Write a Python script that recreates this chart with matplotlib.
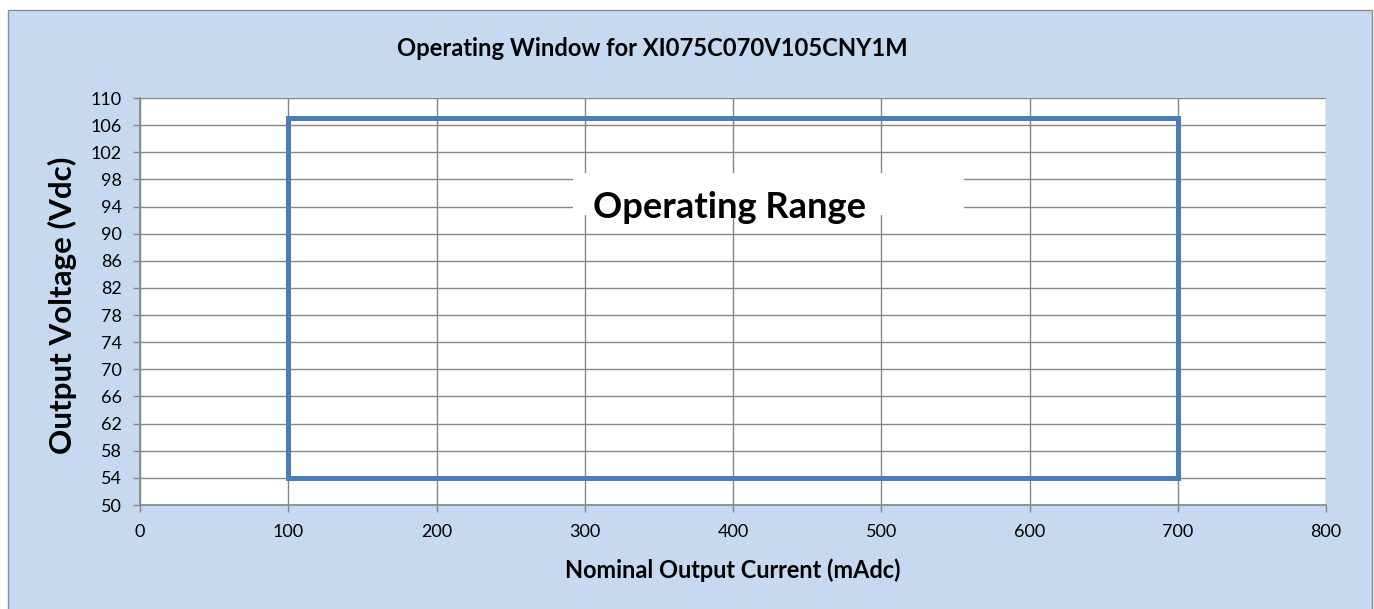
import matplotlib
matplotlib.use("Agg")
import matplotlib.pyplot as plt
from matplotlib.patches import Rectangle

# ---- data ----
current_ma = [100, 100, 700, 700, 100]
voltage_v = [54, 107, 107, 54, 54]
x_ticks = list(range(0, 801, 100))
y_ticks = list(range(50, 111, 4))
title = "Operating Window for XI075C070V105CNY1M"
xlabel = "Nominal Output Current (mAdc)"
ylabel = "Output Voltage (Vdc)"
annotation = "Operating Range"

W, H = 1374, 609
DPI = 100
BLUE_BG = "#C6D9F1"
GRID = "#868686"
LINE = "#4A7EBB"
FONT = "Lato"

plt.rcParams["font.family"] = [FONT, "DejaVu Sans"]

fig = plt.figure(figsize=(W / DPI, H / DPI), dpi=DPI, facecolor="white")

# chart area background with border
bg = Rectangle((7.5 / W, -0.02), (1372 - 7.5) / W, (H - 9.5) / H + 0.02,
               transform=fig.transFigure, facecolor=BLUE_BG, edgecolor="#8C8C8C",
               linewidth=1.0, zorder=-10)
fig.patches.append(bg)

L, R, T, B = 140, 1326, 98, 505
ax = fig.add_axes([L / W, (H - B) / H, (R - L) / W, (B - T) / H])
ax.set_facecolor("white")
ax.set_xlim(0, 800)
ax.set_ylim(50, 110)
ax.set_xticks(x_ticks)
ax.set_yticks(y_ticks)
ax.grid(True, color=GRID, linewidth=1.0, zorder=0)
ax.set_axisbelow(True)
for s in ["top", "right"]:
    ax.spines[s].set_visible(False)
for s in ["left", "bottom"]:
    ax.spines[s].set_color(GRID)
    ax.spines[s].set_linewidth(1.2)
ax.tick_params(axis="both", direction="out", length=5, width=1.0, color=GRID,
               labelsize=13, labelcolor="black")
ax.tick_params(axis="y", pad=8)
ax.tick_params(axis="x", pad=9)

ax.plot(current_ma, voltage_v, color=LINE, linewidth=3.6, solid_joinstyle="miter",
        zorder=3, clip_on=False)

# white text box
ax.add_patch(Rectangle((292, 92.75), 556 - 292, 98.94 - 92.75, facecolor="white",
                       edgecolor="none", zorder=2))
t_ann = ax.text((593 - L) / 1.4825, 93.8, annotation, fontsize=24, fontweight="bold",
                ha="left", va="center", zorder=4)

t_title = fig.text(652 / W, 1 - 48 / H, title, fontsize=14, fontweight="bold",
                   ha="center", va="center")
t_xl = fig.text(733 / W, 1 - 570 / H, xlabel, fontsize=12, fontweight="bold",
                ha="center", va="center")
t_yl = fig.text(62 / W, 1 - 305 / H, ylabel, fontsize=18, fontweight="bold",
                ha="center", va="center", rotation=90)

# fit font sizes to target widths (slightly enlarged: reference font is narrower)
fig.canvas.draw()
r = fig.canvas.get_renderer()
for t, target, horiz in [(t_title, 490, True), (t_xl, 319, True),
                         (t_yl, 284, False), (t_ann, 260, True)]:
    bb = t.get_window_extent(r)
    cur = bb.width if horiz else bb.height
    t.set_fontsize(t.get_fontsize() * target / cur * 1.05)

fig.savefig("out.png", dpi=DPI, facecolor="white")
